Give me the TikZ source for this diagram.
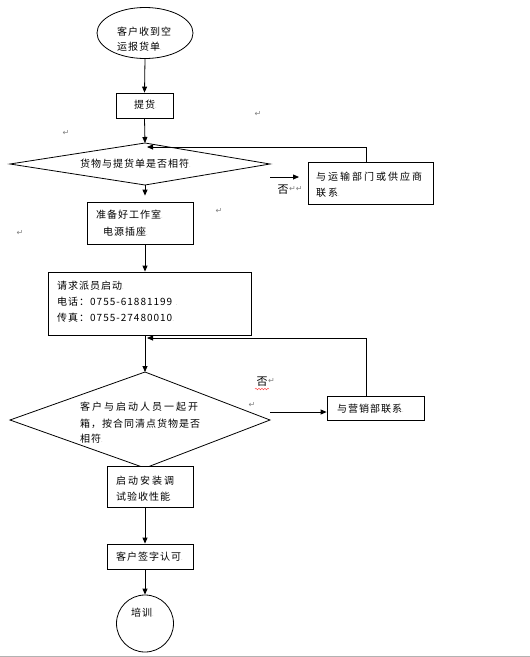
\documentclass[tikz,border=0pt]{standalone}
\usepackage{fontspec}
\setmainfont{Noto Sans CJK SC}
\newfontfamily\symfont{DejaVu Sans}
\newfontfamily\cjkA[LetterSpace=10]{Noto Sans CJK SC}
\newfontfamily\cjkB[LetterSpace=20]{Noto Sans CJK SC}
\usetikzlibrary{arrows.meta,shapes.geometric,decorations.pathmorphing}
\tikzset{
  box/.style={draw,line width=0.8pt,inner sep=0pt},
  flow/.style={draw,line width=0.8pt,-{Triangle[length=6pt,width=5pt]}},
  plain/.style={draw,line width=0.8pt},
  txt/.style={inner sep=0pt,anchor=west,font=\cjkA\fontsize{10}{12}\selectfont},
  wtxt/.style={inner sep=0pt,anchor=west,font=\cjkB\fontsize{10}{12}\selectfont},
  pmark/.style={inner sep=0pt,text=gray,font=\symfont\fontsize{8}{9}\selectfont}
}
\newcommand{\pmk}{{\color{gray!70}\fontsize{6}{6}\selectfont.}}
\begin{document}
\begin{tikzpicture}[x=1pt,y=-1pt]
\useasboundingbox (0,0) rectangle (530,657);
% start ellipse
\node[ellipse,draw,line width=0.8pt,minimum width=96pt,minimum height=51pt,inner sep=0pt] (start) at (145,33) {};
\node[txt] (t1) at (117,32) {客户收到空};
\node[txt] (t2) at (117,47) {运报货单\pmk};
% 提货
\node[box,minimum width=57pt,minimum height=25pt] (pick) at (144.5,105.5) {};
\node[txt] at (134,105) {提货\pmk};
% diamond 1
\coordinate (d1t) at (145,143);
\coordinate (d1b) at (145,185);
\coordinate (d1l) at (10,164);
\coordinate (d1r) at (270,164);
\draw[plain] (d1t) -- (d1r) -- (d1b) -- (d1l) -- cycle;
\node[txt] at (80,164) {货物与提货单是否相符\pmk};
% contact box 1
\node[box,minimum width=125pt,minimum height=42pt] (c1) at (370.5,183) {};
\node[wtxt] at (316,177) {与运输部门或供应商};
\node[wtxt] at (316,193) {联系\pmk};
% box 2
\node[box,minimum width=106pt,minimum height=42pt] (prep) at (140,223) {};
\node[txt] at (96,215) {准备好工作室\pmk};
\node[txt] at (103,232) {电源插座\pmk};
% box 3
\node[box,minimum width=203pt,minimum height=63pt] (req) at (149.5,303.5) {};
\node[txt] at (57,286) {请求派员启动\pmk};
\node[txt] at (57,302) {电话：0755-61881199 \pmk};
\node[txt] at (57,318) {传真：0755-27480010\pmk};
% diamond 2
\coordinate (d2t) at (145,372);
\coordinate (d2b) at (145,468);
\coordinate (d2l) at (10,420);
\coordinate (d2r) at (270,420);
\draw[plain] (d2t) -- (d2r) -- (d2b) -- (d2l) -- cycle;
\node[wtxt] at (80,407) {客户与启动人员一起开};
\node[txt] at (80,424) {箱，按合同清点货物是否};
\node[txt] at (80,439) {相符\pmk};
% contact box 2
\node[box,minimum width=97pt,minimum height=24pt,fill=white] (c2) at (375.5,408) {};
\node[txt] at (337,409) {与营销部联系\pmk};
% box 4
\node[box,minimum width=86pt,minimum height=41pt,fill=white] (inst) at (150,486.5) {};
\node[wtxt] at (116,481) {启动安装调};
\node[txt] at (116,497) {试验收性能\pmk};
% box 5
\node[box,minimum width=86pt,minimum height=25pt] (sign) at (150,556.5) {};
\node[txt] at (116,557) {客户签字认可\pmk};
% circle
\node[circle,draw,line width=0.8pt,minimum size=57pt,inner sep=0pt] (train) at (145,623.5) {};
\node[txt] at (131,613) {培训\pmk};
% connectors
\draw[flow] (start.south) -- (pick.north);
\draw[flow] (pick.south) -- (d1t);
\draw[flow] (d1b) -- ([yshift=6pt]prep.north -| d1b);
\draw[flow] (prep.south -| d1b) -- (req.north -| d1b);
\draw[flow] (req.south -| d1b) -- (d2t);
\draw[flow] (inst.south -| d1b) -- (sign.north -| d1b);
\draw[flow] (sign.south -| d1b) -- (train.north);
% feedback loops
\coordinate (fb1) at (366,147);
\draw[flow] (c1.north -| fb1) -- (fb1) -- (147,147);
\coordinate (fb2) at (366,338);
\draw[flow] (c2.north -| fb2) -- (fb2) -- (147,338);
% no arrows
\coordinate (n1s) at (270,177);
\coordinate (n1e) at (299,177);
\draw[flow] (n1s) -- (n1e);
\coordinate (n2s) at (270,412);
\draw[flow] (n2s) -- (c2.west |- n2s);
\node[inner sep=0pt,font=\fontsize{11}{12}\selectfont] (no1) at (283,190) {否};
\node[pmark,anchor=west] at (289,189) {↵↵};
\node[inner sep=0pt,font=\fontsize{11}{12}\selectfont] (no2) at (262,382) {否};
\draw[red!80,line width=0.4pt,decorate,decoration={snake,amplitude=0.8pt,segment length=3pt}] (255,389) -- (269,389);
\node[pmark,anchor=west] at (268,381) {↵};
% stray paragraph marks
\node[pmark] at (258,114) {↵};
\node[pmark] at (66,133) {↵};
\node[pmark] at (219,211) {↵};
\node[pmark] at (20,233) {↵};
\node[pmark] at (252,405) {↵};
% bottom edge line
\draw[gray!60,line width=1pt] (0,656) -- (530,656);
\end{tikzpicture}
\end{document}
